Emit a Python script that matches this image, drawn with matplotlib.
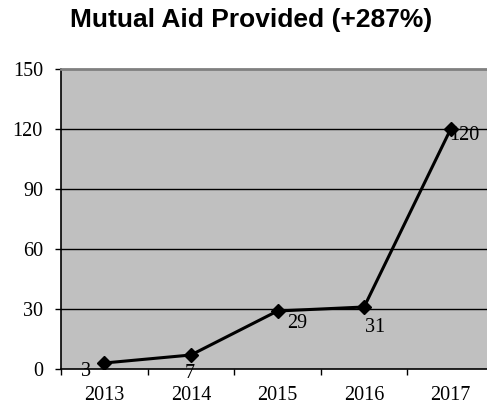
import numpy as np
import matplotlib.pyplot as plt

# ---------------- DATA ----------------
years = ["2013", "2014", "2015", "2016", "2017"]
aid = [3, 7, 29, 31, 120]
# label offsets (pixels) relative to each point
label_dx = [-18, -1, 20, 11, 14]
label_dy = [-8, -19, -12, -21, -6]

y_ticks = [0, 30, 60, 90, 120, 150]

# ---------------- FIGURE ----------------
fig = plt.figure(figsize=(4.87, 4.07), dpi=100)
W, H = 487, 407
ax = fig.add_axes([61 / W, 38 / H, 433 / W, 300 / H])
ax.set_facecolor("#C0C0C0")

serif = "Liberation Serif"
fs = 14.5

x = np.arange(len(years))
ax.plot(x, aid, color="black", lw=2.2, marker="D", ms=7.5, zorder=3)

for xi, v, dx, dy in zip(x, aid, label_dx, label_dy):
    ax.annotate(str(v), (xi, v), xytext=(dx, dy), textcoords="offset pixels",
                ha="center", va="center", fontsize=fs, family=serif)

ax.set_xlim(-0.5, len(years) - 0.5)
ax.set_ylim(0, 150)
ax.set_yticks(y_ticks)
ax.set_yticklabels([str(t) for t in y_ticks], family=serif, fontsize=fs)
ax.set_xticks(x)
ax.set_xticklabels(years, family=serif, fontsize=fs)
ax.tick_params(axis="x", length=0, pad=12)
ax.tick_params(axis="y", length=4.5, width=1, pad=8.5)
# ticks between categories
ax.set_xticks(np.arange(-0.5, len(years)), minor=True)
ax.tick_params(axis="x", which="minor", length=4.2, width=1)

for t in y_ticks[1:-1]:
    ax.axhline(t, color="black", lw=1, zorder=1)

ax.spines["top"].set_color("#808080")
ax.spines["top"].set_linewidth(2)
ax.spines["right"].set_visible(False)
ax.spines["left"].set_linewidth(1.2)
ax.spines["bottom"].set_linewidth(1.2)

fig.text(251 / W, 1 - 20.5 / H, "Mutual Aid Provided (+287%)", ha="center", va="center",
         fontsize=19, fontweight="bold", family="Liberation Sans")

fig.savefig("out.png", dpi=100)
